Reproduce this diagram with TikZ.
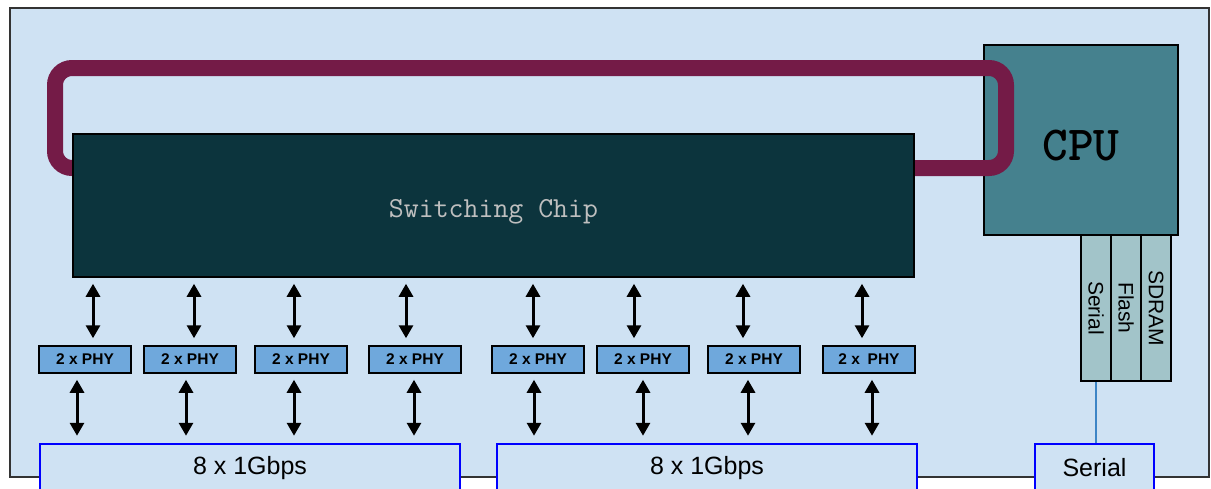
\documentclass[tikz,border=0pt]{standalone}
\usepackage{fontspec}
\setmainfont{Liberation Sans}
\usetikzlibrary{arrows.meta}
\definecolor{boardfill}{HTML}{CFE2F3}
\definecolor{chipfill}{HTML}{0C343D}
\definecolor{cpufill}{HTML}{45818E}
\definecolor{loopred}{HTML}{741B47}
\definecolor{memfill}{HTML}{A2C4C9}
\definecolor{phyfill}{HTML}{6FA8DC}
\definecolor{serialblue}{HTML}{3D85C6}
\begin{document}
\begin{tikzpicture}[x=1pt, y=-1pt,
    chipbox/.style={draw=black, line width=1.5pt, fill=chipfill, inner sep=0pt,
        text=black!25, font=\ttfamily\fontsize{29}{32}\selectfont},
    cpubox/.style={draw=black, line width=2pt, fill=cpufill, inner sep=0pt,
        font=\ttfamily\bfseries\fontsize{49}{52}\selectfont},
    membox/.style={draw=black, line width=2pt, fill=memfill, inner sep=0pt,
        rotate=-90, minimum width=146pt, minimum height=30pt,
        font=\fontsize{21}{23}\selectfont},
    phybox/.style={draw=black, line width=1.5pt, fill=phyfill, inner sep=0pt,
        minimum width=92pt, minimum height=27pt,
        font=\bfseries\fontsize{15.5}{17}\selectfont},
    portbox/.style={draw=blue, line width=2.5pt, fill=boardfill, inner sep=0pt,
        minimum height=48pt, font=\fontsize{25}{28}\selectfont},
    link/.style={line width=3pt, {Triangle[length=13pt,width=14pt]}-{Triangle[length=13pt,width=14pt]},
        shorten <=6pt, shorten >=7pt}]
    \useasboundingbox (0,0) rectangle (1211,488);

    % Board outline
    \draw[fill=boardfill, draw=black!80, line width=2pt] (10,8) rectangle (1209,477);

    % CPU with the memory strips below it
    \node[cpubox, minimum width=194pt, minimum height=190pt] (cpu) at (1081,140) {\raisebox{-20pt}[0pt][0pt]{CPU}};
    \node[membox] (memserial) at (1096,308) {Serial};
    \node[membox] (memflash) at (1126,308) {Flash};
    \node[membox] (memsdram) at (1156,308) {SDRAM};

    % Loop between CPU and switching chip
    \draw[loopred, line width=16pt, rounded corners=17pt] (55,68) rectangle (1006,168);

    % Switching chip
    \node[chipbox, minimum width=841pt, minimum height=143pt] (chip) at (493.5,205.5) {\raisebox{-11.5pt}[0pt][0pt]{Switching Chip}};

    % PHY boxes
    \foreach \i/\x in {1/85, 2/190, 3/301, 4/415, 5/538, 6/643, 7/754}
        \node[phybox] (phy\i) at (\x,359.5) {2 x PHY};
    \node[phybox] (phy8) at (869,359.5) {2 x\enspace PHY};

    % Port boxes
    \node[portbox, minimum width=420pt] (portA) at (250,468) {8 x 1Gbps};
    \node[portbox, minimum width=420pt] (portB) at (707,468) {8 x 1Gbps};
    \node[portbox, minimum width=119pt] (portserial) at (1094.5,468) {Serial};

    % Arrows chip <-> PHY <-> ports
    \foreach \i/\xa/\xb in {1/93/77, 2/194/186, 3/294/294, 4/406/414}
    {
        \draw[link] (chip.south -| \xa,0) -- (phy\i.north -| \xa,0);
        \draw[link] (phy\i.south -| \xb,0) -- (portA.north -| \xb,0);
    }
    \foreach \i/\xa/\xb in {5/533/534, 6/634/643, 7/743/748, 8/862/872}
    {
        \draw[link] (chip.south -| \xa,0) -- (phy\i.north -| \xa,0);
        \draw[link] (phy\i.south -| \xb,0) -- (portB.north -| \xb,0);
    }

    % Serial line
    \draw[serialblue, line width=1.5pt] (memserial.east) -- (memserial.east |- portserial.north);
\end{tikzpicture}
\end{document}
